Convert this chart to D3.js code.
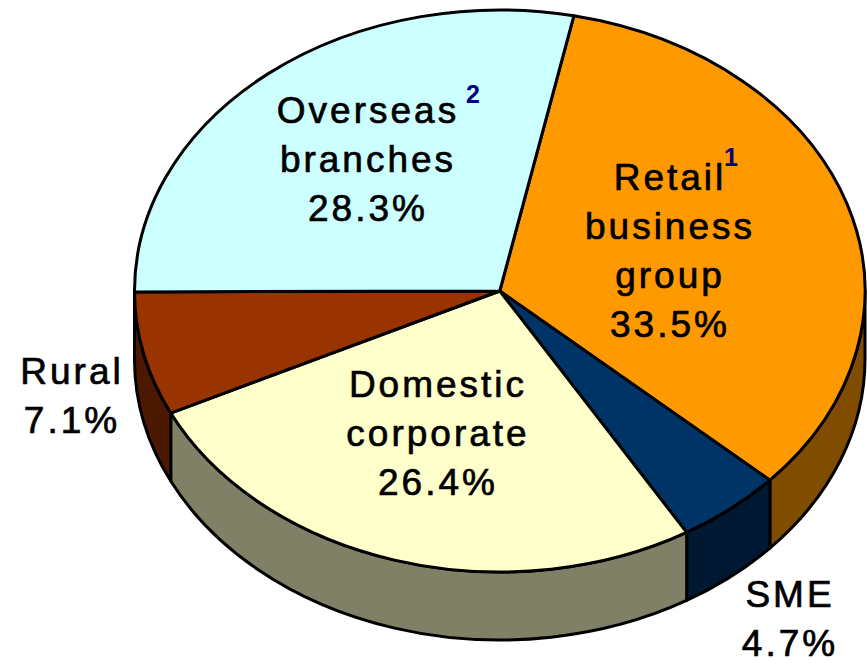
<!DOCTYPE html>
<html><head><meta charset="utf-8">
<script src="https://cdn.jsdelivr.net/npm/d3@7"></script>
<style>html,body{margin:0;padding:0;background:#fff}svg{display:block}
text{font-family:"Liberation Sans",Arial,sans-serif;fill:#000;text-anchor:middle}</style>
</head><body><script>
const categories = ["Retail business group","SME","Domestic corporate","Rural","Overseas branches"];
const values = [33.5,4.7,26.4,7.1,28.3];
const topColors = ["#FF9900","#003366","#FFFFCC","#993300","#CCFFFF"];
const wallColors = ["#7F4C00","#001933","#808066","#4C1900","#667F7F"];
const labelLines = [["Retail","business","group","33.5%"],["SME","4.7%"],["Domestic","corporate","26.4%"],["Rural","7.1%"],["Overseas","branches","28.3%"]];
const labelX = [670,790,438,72,368];
const labelY = [190,607,397,384,123];
const notes = [{t:"1",x:731,y:166},{t:"2",x:473,y:103}];

const W=867,H=665,depth=68,lineH=49,fs=37,ls=3;
const svg=d3.select("body").append("svg").attr("width",W).attr("height",H);
const sx=d3.scaleLinear().domain([-1,1]).range([134.5,865]);
const sy=d3.scaleLinear().domain([-1,1]).range([572,10]);
const rx=(sx(1)-sx(-1))/2, ry=(sy(-1)-sy(1))/2;
const start=11.7*Math.PI/180;
const arcs=d3.pie().sort(null).startAngle(start).endAngle(start+2*Math.PI)(values);
const px=a=>sx(Math.sin(a)), py=a=>sy(Math.cos(a));
const cx=sx(0), cy=sy(0);

function sweep(a0,a1,dy,dir){
  const large=Math.abs(a1-a0)>Math.PI?1:0;
  return `A${rx},${ry} 0 ${large} ${dir} ${px(a1)},${py(a1)+dy}`;
}
// side walls: the visible part of each slice lies between 90 and 270 degrees
const lo=Math.PI/2, hi=3*Math.PI/2;
const g=svg.append("g").attr("stroke","#000").attr("stroke-width",3).attr("stroke-linejoin","round");
g.selectAll("path.wall").data(arcs.filter(d=>d.endAngle>lo&&d.startAngle<hi)).join("path")
 .attr("class","wall")
 .attr("fill",d=>wallColors[d.index])
 .attr("d",d=>{
   const a0=Math.max(d.startAngle,lo),a1=Math.min(d.endAngle,hi);
   return `M${px(a0)},${py(a0)}${sweep(a0,a1,0,1)}L${px(a1)},${py(a1)+depth}${sweep(a1,a0,depth,0)}Z`;
 });
g.selectAll("path.top").data(arcs).join("path")
 .attr("class","top")
 .attr("fill",d=>topColors[d.index])
 .attr("d",d=>`M${cx},${cy}L${px(d.startAngle)},${py(d.startAngle)}${sweep(d.startAngle,d.endAngle,0,1)}Z`);

const lab=svg.append("g").attr("font-size",fs).attr("letter-spacing",ls).attr("stroke","#000").attr("stroke-width",0.7);
categories.forEach((c,i)=>{
  const t=lab.append("text").attr("data-category",c);
  labelLines[i].forEach((l,j)=>t.append("tspan").attr("x",labelX[i]).attr("y",labelY[i]+j*lineH).text(l));
});
svg.selectAll("text.note").data(notes).join("text").attr("class","note")
 .attr("x",d=>d.x).attr("y",d=>d.y).attr("font-size",25).attr("font-weight","bold")
 .style("fill","#000080").text(d=>d.t);
</script></body></html>
